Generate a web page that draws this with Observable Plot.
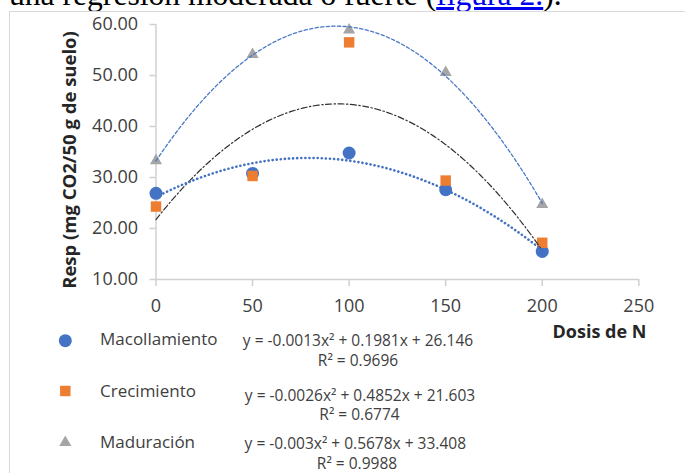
<!DOCTYPE html>
<html>
<head>
<meta charset="utf-8">
<script src="https://cdn.jsdelivr.net/npm/d3@7"></script>
<script src="https://cdn.jsdelivr.net/npm/@observablehq/plot@0.6"></script>
<style>
  html, body { margin:0; padding:0; background:#fff; overflow:hidden; }
  #wrap { position:relative; width:685px; height:473px; overflow:hidden; background:#fff; }
  .abs { position:absolute; white-space:nowrap; }
  #toptext { left:9px; top:-21px; font-family:"Liberation Serif","Times New Roman",serif; font-size:31.6px; line-height:31.6px; color:#000; }
  #toptext a { color:#0000ee; text-decoration:underline; }
  #frame { left:9px; top:11px; width:700px; height:500px; border:1.7px solid #d9d9d9; box-sizing:border-box; }
  #chart { left:0; top:0; }
  .sans { font-family:"Open Sans", sans-serif; color:#404040; }
  .bold { font-weight:bold; color:#262626; }
</style>
</head>
<body>
<div id="wrap">
  <div id="toptext" class="abs">una regresión moderada o fuerte (<a href="#">figura 2.</a>).</div>
  <div id="frame" class="abs"></div>
  <div id="chart" class="abs"></div>
</div>
<script>
// ---- data ----
const dosis = [0, 50, 100, 150, 200];
const macollamiento = [26.9, 30.8, 34.8, 27.6, 15.5];
const crecimiento   = [24.3, 30.3, 56.5, 29.4, 17.2];
const maduracion    = [33.3, 54.1, 58.9, 50.6, 24.7];
const seriesNames = ["Macollamiento", "Crecimiento", "Maduración"];
const equations = [
  "y = -0.0013x² + 0.1981x + 26.146",
  "y = -0.0026x² + 0.4852x + 21.603",
  "y = -0.003x² + 0.5678x + 33.408"
];
const r2Labels = ["R² = 0.9696", "R² = 0.6774", "R² = 0.9988"];
const xTicks = [0, 50, 100, 150, 200, 250];
const yTicks = [10, 20, 30, 40, 50, 60];
const xTitle = "Dosis de N";
const yTitle = "Resp (mg CO2/50 g de suelo)";
const colors = ["#4472C4", "#ED7D31", "#A5A5A5"];

// ---- order-2 polynomial trendline (least squares, as the chart's trendlines) ----
function quadFit(xs, ys) {
  let n = xs.length, S = [0,0,0,0,0], T = [0,0,0];
  for (let i = 0; i < n; i++) {
    const x = xs[i], y = ys[i];
    for (let k = 0; k < 5; k++) S[k] += Math.pow(x, k);
    for (let k = 0; k < 3; k++) T[k] += Math.pow(x, k) * y;
  }
  const M = [[S[0], S[1], S[2], T[0]], [S[1], S[2], S[3], T[1]], [S[2], S[3], S[4], T[2]]];
  for (let i = 0; i < 3; i++) {
    for (let j = i + 1; j < 3; j++) {
      const f = M[j][i] / M[i][i];
      for (let k = i; k < 4; k++) M[j][k] -= f * M[i][k];
    }
  }
  const sol = [0,0,0];
  for (let i = 2; i >= 0; i--) {
    let s = M[i][3];
    for (let k = i + 1; k < 3; k++) s -= M[i][k] * sol[k];
    sol[i] = s / M[i][i];
  }
  return sol; // c, b, a
}
function trend(ys) {
  const [c, b, a] = quadFit(dosis, ys);
  const xsGrid = d3.range(dosis[0], dosis[dosis.length - 1] + 0.001, 2);
  return xsGrid.map(x => ({x, y: a * x * x + b * x + c}));
}
const pts = ys => dosis.map((x, i) => ({x, y: ys[i]}));

const chart = Plot.plot({
  width: 685, height: 320,
  marginLeft: 155.5, marginRight: 46.7, marginTop: 24, marginBottom: 41,
  x: {domain: [0, 250]},
  y: {domain: [10, 60]},
  style: {fontFamily: "Open Sans, sans-serif", fontSize: "18px", color: "#404040", background: "transparent", overflow: "visible"},
  marks: [
    Plot.ruleY([10], {stroke: "#d0d0d0", strokeWidth: 1.5}),
    Plot.ruleX([0], {stroke: "#d0d0d0", strokeWidth: 1.5}),
    Plot.axisX({ticks: xTicks, tickSize: 7, tickPadding: 13, stroke: "#d0d0d0", strokeWidth: 1.5, label: null, fontSize: 18}),
    Plot.axisY({ticks: yTicks, tickFormat: d => d.toFixed(2), tickSize: 6, tickPadding: 12, stroke: "#d0d0d0", strokeWidth: 1.5, label: null, fontSize: 18}),
    Plot.dot(pts(macollamiento), {x: "x", y: "y", r: 6.5, fill: colors[0], symbol: "circle"}),
    Plot.dot(pts(crecimiento), {x: "x", y: "y", r: 5.9, fill: colors[1], symbol: "square"}),
    Plot.dot(pts(maduracion), {x: "x", y: "y", r: 4.5, fill: colors[2], symbol: "triangle"}),
    Plot.line(trend(maduracion), {x: "x", y: "y", stroke: "#4a78c8", strokeWidth: 1.3, strokeDasharray: "3.3 2.3"}),
    Plot.line(trend(crecimiento), {x: "x", y: "y", stroke: "#303030", strokeWidth: 1.2, strokeDasharray: "6 2.5 1.4 2.5"}),
    Plot.line(trend(macollamiento), {x: "x", y: "y", stroke: colors[0], strokeWidth: 2.6, strokeDasharray: "0.1 4", strokeLinecap: "round"})
  ]
});
document.getElementById("chart").appendChild(chart);

// ---- titles and legend (HTML, positioned under/around the plot) ----
const wrap = document.getElementById("wrap");
function addText(txt, opts) {
  const d = document.createElement("div");
  d.className = "abs sans" + (opts.bold ? " bold" : "");
  d.textContent = txt;
  const fs = opts.fs, L = 24;
  d.style.fontSize = fs + "px";
  d.style.lineHeight = L + "px";
  d.style.top = (opts.baseline - L / 2 - 0.388 * fs) + "px";
  if (opts.center != null) {
    d.style.width = "300px";
    d.style.textAlign = "center";
    d.style.left = (opts.center - 150) + "px";
  } else {
    d.style.left = opts.left + "px";
  }
  wrap.appendChild(d);
  return d;
}
// y title (rotated)
(function () {
  const d = document.createElement("div");
  d.className = "abs sans bold";
  d.textContent = yTitle;
  const fs = 18.5, L = 24, W = 320;
  d.style.fontSize = fs + "px";
  d.style.lineHeight = L + "px";
  d.style.width = W + "px";
  d.style.textAlign = "center";
  d.style.left = (69 - W / 2) + "px";
  d.style.top = (159.5 - L / 2) + "px";
  d.style.transform = "rotate(-90deg)";
  wrap.appendChild(d);
})();
addText(xTitle, {left: 552.5, baseline: 338.3, fs: 18, bold: true});

// legend markers
const legendY = [340.7, 391, 442.5];
const sym = ["circle", "square", "triangle"];
const lg = document.createElementNS("http://www.w3.org/2000/svg", "svg");
lg.setAttribute("width", 685); lg.setAttribute("height", 473);
lg.style.position = "absolute"; lg.style.left = "0"; lg.style.top = "0";
const symbols = {circle: d3.symbolCircle, square: d3.symbolSquare, triangle: d3.symbolTriangle};
const rs = [6.5, 5.9, 4.5];
seriesNames.forEach((name, i) => {
  const p = document.createElementNS("http://www.w3.org/2000/svg", "path");
  p.setAttribute("d", d3.symbol(symbols[sym[i]], rs[i] * rs[i] * Math.PI)());
  p.setAttribute("transform", `translate(65.3,${legendY[i]})`);
  p.setAttribute("fill", colors[i]);
  lg.appendChild(p);
});
wrap.appendChild(lg);

const nameBase = [346, 397.3, 448.3];
const eqBase = [345.7, 400.7, 449];
const r2Base = [366, 420.5, 469];
const eqCenter = [358, 360, 355.3];
const r2Center = [358, 359.5, 357];
seriesNames.forEach((name, i) => {
  addText(name, {left: 100, baseline: nameBase[i], fs: 17});
  addText(equations[i], {center: eqCenter[i], baseline: eqBase[i], fs: 15.5});
  addText(r2Labels[i], {center: r2Center[i], baseline: r2Base[i], fs: 15.5});
});
</script>
</body>
</html>
